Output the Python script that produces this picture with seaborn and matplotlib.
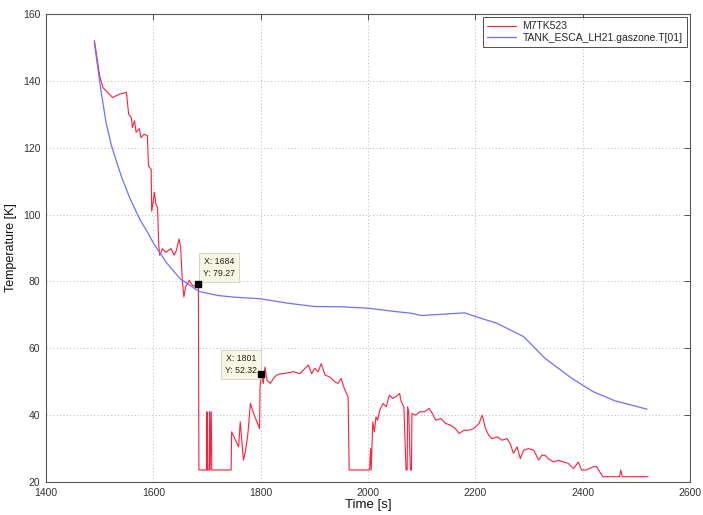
import matplotlib
matplotlib.use("Agg")
import matplotlib.pyplot as plt
import seaborn as sns
import pandas as pd

# ── M7TK523 sensor trace ──
RED_T = [1490, 1491, 1500, 1506, 1515, 1524, 1537, 1550, 1554, 1559, 1561,
         1565, 1568, 1574, 1577, 1583, 1589, 1591, 1596, 1597, 1600, 1602,
         1605, 1608, 1610, 1612, 1617, 1623, 1633, 1639, 1643, 1648, 1651,
         1654, 1657, 1660, 1667, 1673, 1680, 1684, 1685, 1699, 1700, 1701,
         1704, 1705, 1706, 1708, 1709, 1745, 1746, 1759, 1762, 1768, 1772,
         1776, 1781, 1787, 1793, 1798, 1799, 1801, 1805, 1808, 1812, 1818,
         1824, 1830, 1839, 1849, 1861, 1873, 1883, 1889, 1895, 1901, 1907,
         1913, 1920, 1929, 1938, 1944, 1950, 1955, 1960, 1963, 1965, 2003,
         2005, 2006, 2009, 2012, 2015, 2018, 2022, 2028, 2034, 2040, 2046,
         2052, 2059, 2062, 2067, 2071, 2073, 2074, 2076, 2079, 2081, 2082,
         2089, 2096, 2105, 2114, 2120, 2126, 2136, 2145, 2154, 2163, 2170,
         2179, 2188, 2197, 2207, 2213, 2219, 2225, 2231, 2241, 2250, 2259,
         2265, 2271, 2278, 2284, 2290, 2299, 2309, 2318, 2324, 2330, 2336,
         2346, 2355, 2364, 2373, 2383, 2392, 2398, 2407, 2420, 2426, 2432,
         2438, 2469, 2471, 2474, 2522]
RED_Y = [152.0, 151.3, 141.5, 138.0, 136.5, 135.0, 136.0, 136.5, 130.0, 129.0, 126.0,
         128.0, 124.6, 125.7, 123.0, 124.0, 123.6, 114.6, 113.5, 101.0, 104.0, 106.7,
         103.0, 102.0, 91.0, 87.8, 89.8, 88.7, 89.8, 87.8, 89.3, 92.7, 90.2,
         80.3, 75.3, 78.3, 80.3, 78.8, 78.5, 79.27, 23.6, 23.6, 41.0, 23.6,
         23.6, 41.0, 23.6, 41.0, 23.6, 23.6, 35.0, 30.5, 38.0, 26.6, 29.5,
         34.0, 43.5, 40.5, 38.0, 36.0, 48.5, 52.32, 49.5, 54.4, 50.4, 49.5,
         51.0, 52.0, 52.4, 52.6, 53.0, 52.4, 54.0, 55.0, 52.4, 54.0, 53.0,
         55.4, 52.0, 51.4, 50.0, 49.5, 51.0, 48.4, 46.5, 45.5, 23.6, 23.6,
         30.0, 23.6, 38.0, 35.0, 39.5, 38.5, 41.5, 43.5, 42.5, 46.0, 45.0,
         45.5, 46.5, 44.0, 42.5, 23.6, 23.6, 42.5, 41.0, 23.6, 23.6, 40.5,
         40.0, 41.0, 41.0, 42.0, 40.5, 38.5, 39.0, 37.5, 37.0, 36.0, 34.5,
         35.5, 35.5, 36.0, 37.5, 40.0, 36.0, 34.0, 33.0, 33.5, 32.5, 33.0,
         31.5, 28.6, 30.5, 27.0, 29.5, 30.0, 29.5, 26.6, 28.0, 28.0, 27.0,
         26.0, 26.5, 26.0, 25.6, 24.0, 26.0, 23.6, 23.6, 24.6, 24.6, 23.0,
         21.6, 21.6, 23.6, 21.6, 21.6]

# ── simulated gas zone temperature ──
BLUE_T = [1490, 1503, 1512, 1522, 1540, 1556, 1575, 1590, 1600, 1625, 1650,
          1685, 1720, 1750, 1800, 1850, 1900, 1950, 2000, 2050, 2080, 2100,
          2150, 2180, 2200, 2240, 2290, 2330, 2380, 2420, 2460, 2520]
BLUE_Y = [151.4, 136.5, 127.5, 120.6, 111.6, 105.0, 98.5, 94.5, 91.5, 85.5, 80.8,
          77.0, 75.8, 75.3, 74.8, 73.5, 72.5, 72.4, 72.0, 71.0, 70.5, 69.8,
          70.3, 70.6, 69.5, 67.5, 63.5, 57.0, 51.0, 47.0, 44.3, 41.8]

TIPS = [(1684, 79.27), (1801, 52.32)]
TIP_BOX = [(1722, 84.2), (1763, 55.2)]

sns.set_theme(style="white")
plt.rcParams['font.family'] = ['Liberation Sans', 'DejaVu Sans']

red = pd.DataFrame({'t': RED_T, 'T': RED_Y})
blue = pd.DataFrame({'t': BLUE_T, 'T': BLUE_Y})

fig = plt.figure(figsize=(7.03, 5.15), dpi=100)
ax = fig.add_axes([0.0654, 0.064, 0.9160, 0.909])

sns.lineplot(data=red, x='t', y='T', sort=False, estimator=None, ax=ax,
             color='#ff1f3a', lw=0.8, label='M7TK523')
sns.lineplot(data=blue, x='t', y='T', sort=False, estimator=None, ax=ax,
             color='#6f6fff', lw=0.9, label='TANK_ESCA_LH21.gaszone.T[01]')

# data tips
for (tx, ty), (bx, by) in zip(TIPS, TIP_BOX):
    ax.plot(tx, ty, 's', color='black', ms=5, zorder=5)
    ax.text(bx, by, f"X: {tx}\nY: {ty:.2f}", fontsize=6.3, ha='center', va='center',
            color='#222222', linespacing=1.4,
            bbox=dict(boxstyle='square,pad=0.45', fc='#f8f7e4', ec='#cfcfc0', lw=0.6))

ax.set_xlim(1400, 2600)
ax.set_ylim(20, 160)
ax.set_xticks(range(1400, 2601, 200))
ax.set_yticks(range(20, 161, 20))
ax.grid(True, color='#b8b8b8', linestyle=(0, (1, 2.5)), lw=0.7)
ax.tick_params(direction='in', top=True, right=True, length=4, width=0.6,
               labelsize=7.5, colors='#333333', pad=4)
for s in ax.spines.values():
    s.set_color('#555555')
    s.set_linewidth(0.8)

ax.set_xlabel('Time [s]', fontsize=9.5, labelpad=1, color='#111111')
ax.set_ylabel('Temperature [K]', fontsize=9, labelpad=4, color='#111111')

leg = ax.legend(loc='upper right', fontsize=7.5, frameon=True, fancybox=False,
                handlelength=2.8, handletextpad=0.6, borderpad=0.4,
                labelspacing=0.15, borderaxespad=0.3)
leg.get_frame().set_edgecolor('#222222')
leg.get_frame().set_linewidth(0.7)

fig.savefig('out.png', dpi=100)
